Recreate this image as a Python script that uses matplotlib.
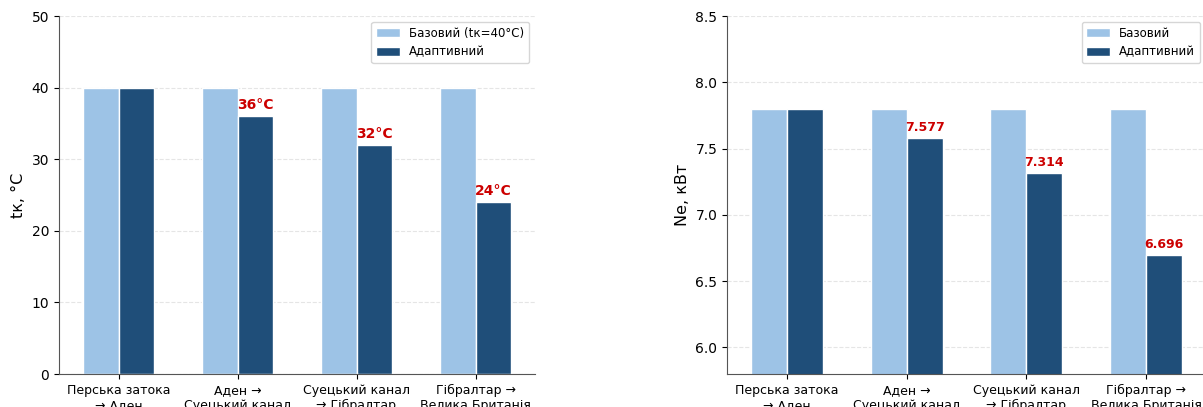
import numpy as np
import matplotlib.pyplot as plt

routes = ["Перська затока\n→ Аден", "Аден →\nСуецький канал",
          "Суецький канал\n→ Гібралтар", "Гібралтар →\nВелика Британія"]

tk_base = [40, 40, 40, 40]
tk_adapt = [40, 36, 32, 24]
tk_labels = ["", "36°C", "32°C", "24°C"]

ne_base = [7.8, 7.8, 7.8, 7.8]
ne_adapt = [7.8, 7.577, 7.314, 6.696]
ne_labels = ["", "7.577", "7.314", "6.696"]

c_base = "#9dc3e6"
c_adapt = "#1f4e79"
c_red = "#cc0000"

W, H = 1203, 407
fig = plt.figure(figsize=(W / 100, H / 100), dpi=100)

# axes placed in pixel coordinates so the crop of the original is reproduced
ax1 = fig.add_axes([59 / W, (H - 374) / H, 476 / W, 358 / H])
ax2 = fig.add_axes([727 / W, (H - 374) / H, 479 / W, 358 / H])

x = np.arange(len(routes))
w = 0.3


def draw(ax, base, adapt, labels, base_name, ylabel, ylim, yticks, fs):
    ax.bar(x - w / 2, base, w, color=c_base, edgecolor="white", linewidth=1, label=base_name)
    ax.bar(x + w / 2, adapt, w, color=c_adapt, edgecolor="white", linewidth=1, label="Адаптивний")
    for xi, v, t in zip(x, adapt, labels):
        if t:
            ax.annotate(t, (xi + w / 2, v), xytext=(0, 3), textcoords="offset points",
                        ha="center", va="bottom", color=c_red, fontweight="bold", fontsize=fs)
    ax.set_xlim(-0.5, 3.5)
    ax.set_ylim(*ylim)
    ax.set_yticks(yticks)
    ax.set_xticks(x)
    ax.set_xticklabels(routes, fontsize=9)
    ax.tick_params(axis="y", labelsize=10)
    ax.set_ylabel(ylabel, fontsize=11.5)
    ax.grid(axis="y", linestyle="--", color="#cccccc", alpha=0.5)
    ax.set_axisbelow(True)
    for s in ["top", "right"]:
        ax.spines[s].set_visible(False)
    for s in ["left", "bottom"]:
        ax.spines[s].set_color("#555555")
    ax.legend(loc="upper right", fontsize=8.5)


draw(ax1, tk_base, tk_adapt, tk_labels, "Базовий (tк=40°C)", "tк, °C",
     (0, 50), [0, 10, 20, 30, 40, 50], 10)
draw(ax2, ne_base, ne_adapt, ne_labels, "Базовий", "Ne, кВт",
     (5.8, 8.5), [6.0, 6.5, 7.0, 7.5, 8.0, 8.5], 9)
ax2.yaxis.set_major_formatter(plt.FormatStrFormatter("%.1f"))

fig.savefig("out.png", dpi=100)
